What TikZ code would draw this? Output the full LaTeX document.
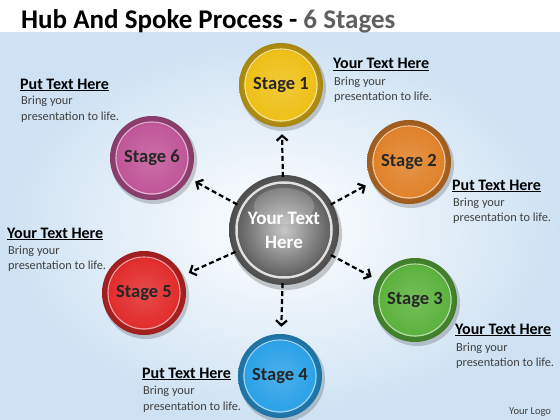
\documentclass[tikz,border=0pt]{standalone}
\usepackage{fontspec}
\setmainfont{Carlito}
\usetikzlibrary{arrows.meta}
\definecolor{cgold}{RGB}{238,192,24}
\definecolor{corange}{RGB}{224,130,42}
\definecolor{cgreen}{RGB}{92,178,62}
\definecolor{cblue}{RGB}{44,162,232}
\definecolor{cred}{RGB}{226,44,44}
\definecolor{cpurple}{RGB}{192,86,152}
\definecolor{bgblue}{RGB}{206,226,243}
\definecolor{bodygray}{RGB}{64,64,64}
\definecolor{titlegray}{RGB}{96,96,96}
\newcommand\stagedisc[5]{%
  \fill[black,opacity=0.18] (#2+2,#3+3) circle (43);
  \shade[inner color=#4, outer color=#4!70!black] (#2,#3) circle (42);
  \shade[top color=#4!85!black, bottom color=#4!80!white] (#2,#3) circle (36.5);
  \draw[#4!45!white, line width=1.1pt] (#2,#3) circle (36);
  \shade[inner color=#4!85!white, outer color=#4] (#2,#3) circle (35);
  \node[stagenode] (#1) at (#2,#3) {#5};
}
\begin{document}
\begin{tikzpicture}[x=1pt,y=-1pt,
  stagenode/.style={circle, minimum size=84pt, inner sep=0pt,
    font=\bfseries\fontsize{18.5}{20}\selectfont, text=black!85},
  hubnode/.style={circle, minimum size=110pt, inner sep=0pt, align=center,
    font=\bfseries\fontsize{19}{24}\selectfont, text=white},
  spoke/.style={line width=2.2pt, dash pattern=on 5pt off 3pt,
    -{Straight Barb[length=5pt,width=11pt]}, shorten >=7pt, shorten <=-2pt},
  headtxt/.style={anchor=base west, inner sep=0pt,
    font=\bfseries\fontsize{16}{18}\selectfont, text=black},
  bodytxt/.style={anchor=base west, inner sep=0pt,
    font=\fontsize{12.3}{14}\selectfont, text=bodygray}]
\useasboundingbox (0,0) rectangle (560,420);
\fill[white] (0,0) rectangle (560,420);
\shade[inner color=white, outer color=bgblue] (0,33) rectangle (560,420);
% title
\node[anchor=base west, inner sep=0pt, font=\bfseries\fontsize{27}{30}\selectfont] (title) at (21,29)
  {Hub And Spoke Process - {\color{titlegray}6 Stages}};
% hub
\fill[black,opacity=0.2] (286,234) circle (56);
\shade[inner color=black!35, outer color=black!70] (284,230) circle (55);
\draw[black!12, line width=2.5pt] (284,230) circle (47.5);
\shade[inner color=black!22, outer color=black!62] (284,230) circle (46);
\fill[white,opacity=0.18] (284,206) ellipse (30 and 18);
\node[hubnode] (hub) at (284,230) {Your Text\\Here};
% stages
\stagedisc{s1}{281}{85}{cgold}{Stage 1}
\stagedisc{s2}{409}{162}{corange}{Stage 2}
\stagedisc{s3}{415}{300}{cgreen}{Stage 3}
\stagedisc{s4}{280}{376}{cblue}{Stage 4}
\stagedisc{s5}{144}{293}{cred}{Stage 5}
\stagedisc{s6}{152}{158}{cpurple}{Stage 6}
% spokes
\foreach \s in {s1,s2,s3,s4,s5,s6} \draw[spoke] (hub) -- (\s);
% text blocks
\node[headtxt] (h1) at (333,69) {\underline{Your Text Here}};
\node[bodytxt] (b1a) at (334,85) {Bring your};
\node[bodytxt] (b1b) at (334,101) {presentation to life.};
\node[headtxt] (h2) at (452,190) {\underline{Put Text Here}};
\node[bodytxt] (b2a) at (453,206) {Bring your};
\node[bodytxt] (b2b) at (453,221) {presentation to life.};
\node[headtxt] (h3) at (455,334) {\underline{Your Text Here}};
\node[bodytxt] (b3a) at (456,351) {Bring your};
\node[bodytxt] (b3b) at (456,366) {presentation to life.};
\node[headtxt] (h4) at (142,378) {\underline{Put Text Here}};
\node[bodytxt] (b4a) at (143,394) {Bring your};
\node[bodytxt] (b4b) at (143,410) {presentation to life.};
\node[headtxt] (h5) at (7,238) {\underline{Your Text Here}};
\node[bodytxt] (b5a) at (8,254) {Bring your};
\node[bodytxt] (b5b) at (8,269) {presentation to life.};
\node[headtxt] (h6) at (20,89) {\underline{Put Text Here}};
\node[bodytxt] (b6a) at (21,105) {Bring your};
\node[bodytxt] (b6b) at (21,121) {presentation to life.};
\node[anchor=base west, inner sep=0pt, font=\fontsize{10.5}{12}\selectfont, text=bodygray] (logo) at (509,414) {Your Logo};
\end{tikzpicture}
\end{document}
